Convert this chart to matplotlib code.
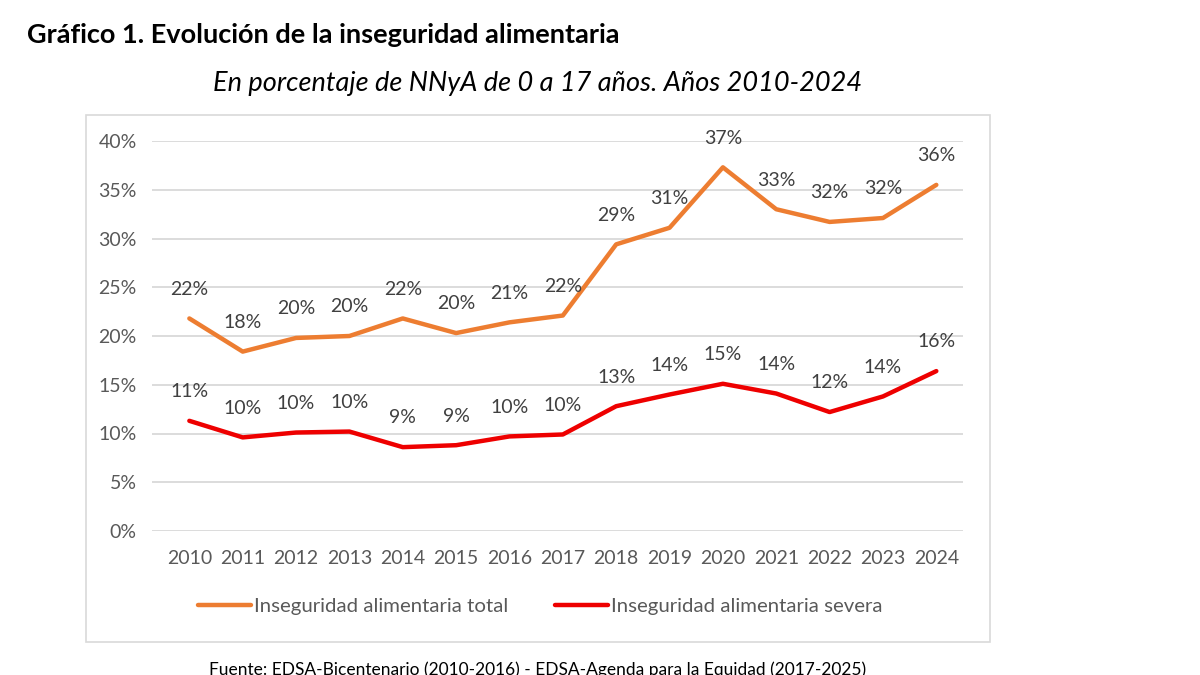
import matplotlib
matplotlib.use("Agg")
import matplotlib.pyplot as plt
from matplotlib.patches import Rectangle

years = ["2010", "2011", "2012", "2013", "2014", "2015", "2016", "2017",
         "2018", "2019", "2020", "2021", "2022", "2023", "2024"]
total = [21.8, 18.4, 19.8, 20.0, 21.8, 20.3, 21.4, 22.1, 29.4, 31.1, 37.3, 33.0, 31.7, 32.1, 35.5]
total_labels = ["22%", "18%", "20%", "20%", "22%", "20%", "21%", "22%",
                "29%", "31%", "37%", "33%", "32%", "32%", "36%"]
severa = [11.3, 9.6, 10.1, 10.2, 8.6, 8.8, 9.7, 9.9, 12.8, 14.0, 15.1, 14.1, 12.2, 13.8, 16.4]
severa_labels = ["11%", "10%", "10%", "10%", "9%", "9%", "10%", "10%",
                 "13%", "14%", "15%", "14%", "12%", "14%", "16%"]
yticks = [0, 5, 10, 15, 20, 25, 30, 35, 40]

plt.rcParams['font.family'] = ['Lato', 'DejaVu Sans']

fig = plt.figure(figsize=(12, 6.75), dpi=100)
fig.patch.set_facecolor('white')

# chart border box
fig.patches.append(Rectangle((86 / 1200, 1 - 642 / 675), (990 - 86) / 1200, (642 - 115) / 675,
                             transform=fig.transFigure, fill=False,
                             edgecolor='#D9D9D9', linewidth=1.2))

ax = fig.add_axes([152 / 1200, 1 - 531 / 675, (963 - 152) / 1200, (531 - 141) / 675])
x = list(range(len(years)))
l1, = ax.plot(x, total, color='#ED7D31', linewidth=3.2, solid_capstyle='round',
              label='Inseguridad alimentaria total')
l2, = ax.plot(x, severa, color='#EE0000', linewidth=3.2, solid_capstyle='round',
              label='Inseguridad alimentaria severa')

for xi, v, s in zip(x, total, total_labels):
    ax.annotate(s, (xi, v), xytext=(0, 21), textcoords='offset points',
                ha='center', va='center', fontsize=14, color='#404040')
for xi, v, s in zip(x, severa, severa_labels):
    ax.annotate(s, (xi, v), xytext=(0, 21), textcoords='offset points',
                ha='center', va='center', fontsize=14, color='#404040')

ax.set_xlim(-0.7, len(years) - 0.5)
ax.set_ylim(0, 40)
ax.set_yticks(yticks)
ax.set_yticklabels([f"{t}%" for t in yticks])
ax.set_xticks(x)
ax.set_xticklabels(years)
ax.tick_params(axis='both', length=0, labelsize=14, colors='#595959')
ax.tick_params(axis='x', pad=14)
ax.tick_params(axis='y', pad=11)
ax.grid(axis='y', color='#D9D9D9', linewidth=1.3)
ax.set_axisbelow(True)
for sp in ax.spines.values():
    sp.set_visible(False)

fig.legend(handles=[l1, l2], loc='center', bbox_to_anchor=(540 / 1200, 1 - 606 / 675),
           ncol=2, frameon=False, fontsize=14.7, handlelength=2.6, handletextpad=0.15,
           columnspacing=2.3, labelcolor='#595959')

fig.text(27 / 1200, 1 - 35 / 675, "Gráfico 1. Evolución de la inseguridad alimentaria",
         fontsize=19.5, fontweight='bold', color='black', ha='left', va='center')
fig.text(538 / 1200, 1 - 84 / 675, "En porcentaje de NNyA de 0 a 17 años. Años 2010-2024",
         fontsize=19.5, fontstyle='italic', color='black', ha='center', va='center')
fig.text(538 / 1200, 1 - 670 / 675,
         "Fuente: EDSA-Bicentenario (2010-2016) - EDSA-Agenda para la Equidad (2017-2025)",
         fontsize=12.5, color='black', ha='center', va='center')

fig.savefig('out.png', dpi=100)
